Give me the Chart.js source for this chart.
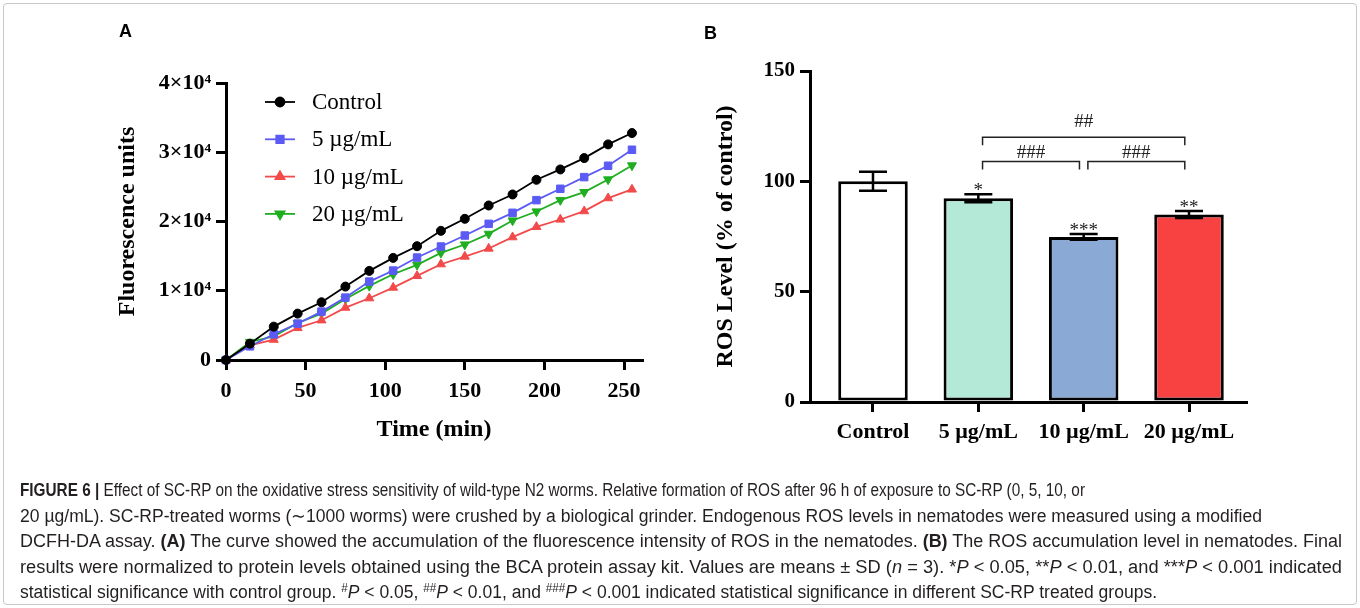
<!DOCTYPE html>
<html>
<head>
<meta charset="utf-8">
<script src="https://cdn.jsdelivr.net/npm/chart.js@4.4.1/dist/chart.umd.min.js"></script>
<style>
  html, body { margin:0; padding:0; background:#fff; width:1360px; height:608px; overflow:hidden; }
  #frame { position:absolute; left:3px; top:3px; width:1354px; height:602px; border:1px solid #c8c8c8; border-radius:4px; box-sizing:border-box; }
  canvas { position:absolute; left:0; top:0; }
  .panel { position:absolute; font:bold 18px "Liberation Sans", Arial, sans-serif; line-height:18px; color:#000; }
  .cap { position:absolute; left:20px; white-space:nowrap; font-size:18px; font-family:"Liberation Sans Narrow","Liberation Sans",Arial,sans-serif; line-height:20px; color:#231f20; transform-origin:0 50%; }
  .cap sup { font-size:12px; line-height:0; vertical-align:6px; }
</style>
</head>
<body>
<div id="frame"></div>
<canvas id="cA" width="1360" height="608"></canvas>
<canvas id="cB" width="1360" height="608"></canvas>
<div class="panel" style="left:119px;top:22px;">A</div>
<div class="panel" style="left:704px;top:24px;">B</div>

<div class="cap" id="l1" style="top:480px;"><b>FIGURE 6 |</b> Effect of SC-RP on the oxidative stress sensitivity of wild-type N2 worms. Relative formation of ROS after 96 h of exposure to SC-RP (0, 5, 10, or</div>
<div class="cap" id="l2" style="top:506px;">20 µg/mL). SC-RP-treated worms (∼1000 worms) were crushed by a biological grinder. Endogenous ROS levels in nematodes were measured using a modified</div>
<div class="cap" id="l3" style="top:531px;">DCFH-DA assay. <b>(A)</b> The curve showed the accumulation of the fluorescence intensity of ROS in the nematodes. <b>(B)</b> The ROS accumulation level in nematodes. Final</div>
<div class="cap" id="l4" style="top:557px;">results were normalized to protein levels obtained using the BCA protein assay kit. Values are means ± SD (<i>n</i> = 3). *<i>P</i> &lt; 0.05, **<i>P</i> &lt; 0.01, and ***<i>P</i> &lt; 0.001 indicated</div>
<div class="cap" id="l5" style="top:582px;">statistical significance with control group. <sup>#</sup><i>P</i> &lt; 0.05, <sup>##</sup><i>P</i> &lt; 0.01, and <sup>###</sup><i>P</i> &lt; 0.001 indicated statistical significance in different SC-RP treated groups.</div>

<script>
// ---------------- DATA ----------------
// Panel A: fluorescence accumulation over time
const timeMin   = [0, 15, 30, 45, 60, 75, 90, 105, 120, 135, 150, 165, 180, 195, 210, 225, 240, 255];
const controlFU = [0, 2361, 4819, 6699, 8337, 10602, 12867, 14747, 16434, 18651, 20386, 22313, 23904, 26024, 27518, 29157, 31133, 32771];
const dose5FU   = [0, 1976, 3711, 5253, 6988, 9012, 11325, 12916, 14795, 16386, 17976, 19663, 21253, 23084, 24723, 26410, 28048, 30361];
const dose10FU  = [0, 2120, 2940, 4627, 5735, 7566, 8916, 10458, 12145, 13831, 14940, 16096, 17735, 19229, 20289, 21494, 23373, 24627];
const dose20FU  = [0, 2602, 3422, 5349, 6699, 8819, 10699, 12386, 13735, 15470, 16675, 18217, 20145, 21446, 23084, 24241, 26072, 28096];
const seriesNames = ['Control', '5 µg/mL', '10 µg/mL', '20 µg/mL'];
const timeTicks = [0, 50, 100, 150, 200, 250];
const fluorTicks = [0, 10000, 20000, 30000, 40000];
const fluorTickLabels = ['0', '1×10⁴', '2×10⁴', '3×10⁴', '4×10⁴'];

// Panel B: ROS level (% of control)
const groups   = ['Control', '5 µg/mL', '10 µg/mL', '20 µg/mL'];
const rosMean  = [100, 92.3, 74.8, 85.0];
const rosSD    = [4.3, 1.8, 1.3, 1.6];
const rosStars = ['', '*', '***', '**'];
const rosTicks = [0, 50, 100, 150];
const compFrom  = [1, 1, 2];
const compTo    = [3, 2, 3];
const compLabel = ['##', '###', '###'];

// ---------------- STYLE ----------------
const serif = '"Liberation Serif", "Times New Roman", serif';
const seriesStyle = [
  { color:'#000000', pointStyle:'circle',   radius:4.5, rotation:0 },
  { color:'#5b5bf4', pointStyle:'rect',     radius:5.3, rotation:0 },
  { color:'#f24a4a', pointStyle:'triangle', radius:5.2, rotation:0 },
  { color:'#1fae1f', pointStyle:'triangle', radius:5.2, rotation:180 }
];
const barColors = ['#ffffff', '#b3e9d6', '#8aaad5', '#f84141'];
const bracketLevel = [120, 109, 109];   // y (data units) of bracket lines
const bracketLabelLevel = [127, 113, 113];

function fixedTicks(values) {
  return function (scale) { scale.ticks = values.map(v => ({ value: v })); };
}
function axisLook(tickLen) {
  return {
    grid: { display:true, offset:false, drawOnChartArea:false, drawTicks:true, tickLength:tickLen, tickWidth:3,
            tickColor:'#000', color:'#000', lineWidth:3 },
    border: { display:true, color:'#000', width:3 }
  };
}

function drawMarker(ctx, st, x, y) {
  ctx.fillStyle = st.color; ctx.strokeStyle = st.color;
  if (Chart.helpers && Chart.helpers.drawPoint) {
    Chart.helpers.drawPoint(ctx, { pointStyle: st.pointStyle, radius: st.radius, rotation: st.rotation, borderWidth: 1 }, x, y);
    return;
  }
  ctx.beginPath();
  if (st.pointStyle === 'circle') ctx.arc(x, y, st.radius, 0, Math.PI * 2);
  else if (st.pointStyle === 'rect') { const s = st.radius * Math.SQRT1_2; ctx.rect(x - s, y - s, 2 * s, 2 * s); }
  else {
    const r = st.radius, d = st.rotation === 180 ? -1 : 1;
    ctx.moveTo(x, y - d * r);
    ctx.lineTo(x - r * 0.866, y + d * r * 0.5);
    ctx.lineTo(x + r * 0.866, y + d * r * 0.5);
    ctx.closePath();
  }
  ctx.fill(); ctx.stroke();
}

// Legend for panel A (line + marker + label), drawn inside the chart area
const lineLegend = {
  id: 'lineLegend',
  afterDraw(chart) {
    const ctx = chart.ctx, ca = chart.chartArea;
    ctx.save();
    chart.data.datasets.forEach((ds, i) => {
      const st = seriesStyle[i];
      const y = ca.top + 19 + i * 37.3;
      const x0 = ca.left + 39;
      ctx.strokeStyle = st.color; ctx.lineWidth = 1.8;
      ctx.beginPath(); ctx.moveTo(x0, y); ctx.lineTo(x0 + 30, y); ctx.stroke();
      drawMarker(ctx, st, x0 + 15, y);
      ctx.fillStyle = '#000';
      ctx.font = '23px ' + serif;
      ctx.textAlign = 'left'; ctx.textBaseline = 'middle';
      ctx.fillText(ds.label, x0 + 47, y + 1);
    });
    ctx.restore();
  }
};

// Error bars, significance stars and comparison brackets for panel B
const barAnnotations = {
  id: 'barAnnotations',
  afterDatasetsDraw(chart) {
    const ctx = chart.ctx, ys = chart.scales.y, xs = chart.scales.x;
    const meta = chart.getDatasetMeta(0);
    ctx.save();
    ctx.strokeStyle = '#000'; ctx.lineWidth = 2.5;
    meta.data.forEach((bar, i) => {
      const x = bar.x;
      const top = ys.getPixelForValue(rosMean[i] + rosSD[i]);
      const bot = ys.getPixelForValue(rosMean[i] - rosSD[i]);
      const half = 14;
      ctx.beginPath();
      ctx.moveTo(x, top); ctx.lineTo(x, bot);
      ctx.moveTo(x - half, top); ctx.lineTo(x + half, top);
      ctx.moveTo(x - half, bot); ctx.lineTo(x + half, bot);
      ctx.stroke();
      if (rosStars[i]) {
        ctx.fillStyle = '#222';
        ctx.font = '19px ' + serif;
        ctx.textAlign = 'center'; ctx.textBaseline = 'middle';
        ctx.fillText(rosStars[i], x, top - 3);
      }
    });
    // brackets
    ctx.lineWidth = 1.5; ctx.strokeStyle = '#222';
    compFrom.forEach((f, k) => {
      const x1 = xs.getPixelForValue(f + 0.04);
      const x2 = xs.getPixelForValue(compTo[k] - 0.04);
      const yb = ys.getPixelForValue(bracketLevel[k]);
      const drop = 8;
      ctx.beginPath();
      ctx.moveTo(x1, yb + drop); ctx.lineTo(x1, yb); ctx.lineTo(x2, yb); ctx.lineTo(x2, yb + drop);
      ctx.stroke();
      ctx.fillStyle = '#222';
      ctx.font = '19px ' + serif;
      ctx.textAlign = 'center'; ctx.textBaseline = 'middle';
      ctx.fillText(compLabel[k], xs.getPixelForValue((f + compTo[k]) / 2), ys.getPixelForValue(bracketLabelLevel[k]));
    });
    ctx.restore();
  }
};

// ---------------- PANEL A ----------------
const seriesValues = [controlFU, dose5FU, dose10FU, dose20FU];
new Chart(document.getElementById('cA'), {
  type: 'line',
  data: {
    datasets: seriesValues.map((vals, i) => ({
      label: seriesNames[i],
      data: timeMin.map((t, j) => ({ x: t, y: vals[j] })),
      borderColor: seriesStyle[i].color,
      backgroundColor: seriesStyle[i].color,
      borderWidth: 1.8,
      pointStyle: seriesStyle[i].pointStyle,
      pointRadius: seriesStyle[i].radius,
      pointRotation: seriesStyle[i].rotation,
      pointBorderWidth: 1,
      tension: 0,
      clip: false
    }))
  },
  options: {
    responsive: false, animation: false, devicePixelRatio: 1,
    layout: { padding: { left: 113, top: 83, right: 718, bottom: 163.6 } },
    plugins: { legend: { display: false }, tooltip: { enabled: false } },
    scales: {
      x: Object.assign({
        type: 'linear', position: 'bottom', min: 0, max: 261.3,
        afterBuildTicks: fixedTicks(timeTicks),
        afterFit(s) { s.height = 84.4; },
        ticks: { color:'#000', padding:8, maxRotation:0, autoSkip:false,
                 font: { family: serif, size: 22, weight: 'bold' },
                 callback: (v, i) => String(timeTicks[i]) },
        title: { display:true, text:'Time (min)', color:'#000', padding:0,
                 font: { family: serif, size: 24, weight: 'bold' } }
      }, axisLook(10)),
      y: Object.assign({
        type: 'linear', position: 'left', min: 0, max: 40000,
        afterBuildTicks: fixedTicks(fluorTicks),
        afterFit(s) { s.width = 113; },
        ticks: { color:'#000', padding:5, autoSkip:false,
                 font: { family: serif, size: 22, weight: 'bold' },
                 callback: (v, i) => fluorTickLabels[i] },
        title: { display:true, text:'Fluorescence units', color:'#000', padding:0,
                 font: { family: serif, size: 24, weight: 'bold' } }
      }, axisLook(10))
    }
  },
  plugins: [lineLegend]
});

// ---------------- PANEL B ----------------
new Chart(document.getElementById('cB'), {
  type: 'bar',
  data: {
    datasets: [{
      label: 'ROS Level',
      data: groups.map((g, i) => ({ x: i, y: rosMean[i] })),
      backgroundColor: barColors,
      borderColor: '#000',
      borderWidth: 3,
      borderSkipped: false,
      categoryPercentage: 1,
      barPercentage: 0.66,
      clip: false
    }]
  },
  options: {
    responsive: false, animation: false, devicePixelRatio: 1,
    layout: { padding: { left: 711, top: 71, right: 114, bottom: 146 } },
    plugins: { legend: { display: false }, tooltip: { enabled: false } },
    scales: {
      x: Object.assign({
        type: 'linear', position: 'bottom', min: -0.598, max: 3.541, offset: false,
        afterBuildTicks: fixedTicks(groups.map((g, i) => i)),
        afterFit(s) { s.height = 60; },
        ticks: { color:'#000', padding:7, maxRotation:0, autoSkip:false,
                 font: { family: serif, size: 22, weight: 'bold' },
                 callback: (v, i) => groups[i] }
      }, axisLook(10)),
      y: Object.assign({
        type: 'linear', position: 'left', min: 0, max: 150,
        afterBuildTicks: fixedTicks(rosTicks),
        afterFit(s) { s.width = 99; },
        ticks: { color:'#000', padding:5, autoSkip:false,
                 font: { family: serif, size: 21, weight: 'bold' },
                 callback: (v, i) => String(rosTicks[i]) },
        title: { display:true, text:'ROS Level (% of control)', color:'#000', padding:0,
                 font: { family: serif, size: 24, weight: 'bold' } }
      }, axisLook(10))
    }
  },
  plugins: [barAnnotations]
});

// ---------------- CAPTION FITTING ----------------
const capTargets = { l1: 1065, l2: 1242, l3: 1322, l4: 1322, l5: 1137 };
function fitCaption() {
  Object.keys(capTargets).forEach(id => {
    const el = document.getElementById(id);
    el.style.transform = 'none';
    const w = el.getBoundingClientRect().width;
    if (w > 0) el.style.transform = 'scaleX(' + (capTargets[id] / w) + ')';
  });
}
fitCaption();
if (document.fonts && document.fonts.ready) document.fonts.ready.then(fitCaption);
</script>
</body>
</html>
